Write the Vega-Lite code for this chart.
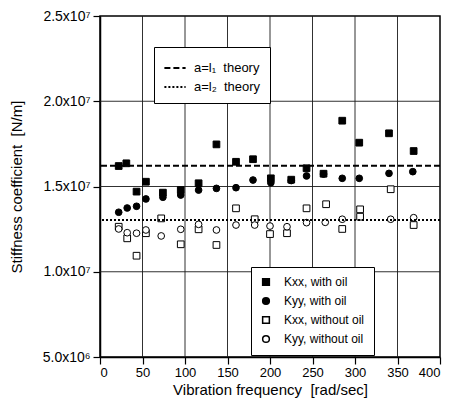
{
  "$schema": "https://vega.github.io/schema/vega-lite/v6.json",
  "autosize": {"type": "none"},
  "width": 340,
  "height": 341,
  "padding": {"left": 100, "top": 16, "right": 12, "bottom": 53},
  "background": "white",
  "config": {
    "font": "Liberation Sans",
    "view": {"stroke": "black", "strokeWidth": 1.5},
    "axis": {
      "grid": false,
      "domainColor": "black", "domainWidth": 1.5,
      "tickColor": "black", "tickWidth": 1.2, "tickSize": 7,
      "labelColor": "black", "labelFontSize": 13, "labelFont": "Liberation Sans",
      "titleColor": "black", "titleFontSize": 15, "titleFontWeight": "normal", "titleFont": "Liberation Sans"
    },
    "legend": {
      "labelColor": "black", "labelFont": "Liberation Sans",
      "strokeColor": "black", "fillColor": "white"
    }
  },
  "datasets": {
    "gridx": [{"g": 50}, {"g": 100}, {"g": 150}, {"g": 200}, {"g": 250}, {"g": 300}, {"g": 350}],
    "gridy": [{"g": 10000000}, {"g": 15000000}, {"g": 20000000}],
    "pts": [
      {"f": 22, "k": 16200000, "s": "Kxx, with oil"},
      {"f": 31, "k": 16360000, "s": "Kxx, with oil"},
      {"f": 43, "k": 14700000, "s": "Kxx, with oil"},
      {"f": 54, "k": 15280000, "s": "Kxx, with oil"},
      {"f": 74, "k": 14640000, "s": "Kxx, with oil"},
      {"f": 95, "k": 14790000, "s": "Kxx, with oil"},
      {"f": 116, "k": 15190000, "s": "Kxx, with oil"},
      {"f": 137, "k": 17470000, "s": "Kxx, with oil"},
      {"f": 160, "k": 16450000, "s": "Kxx, with oil"},
      {"f": 180, "k": 16600000, "s": "Kxx, with oil"},
      {"f": 201, "k": 15480000, "s": "Kxx, with oil"},
      {"f": 225, "k": 15400000, "s": "Kxx, with oil"},
      {"f": 243, "k": 16070000, "s": "Kxx, with oil"},
      {"f": 263, "k": 15750000, "s": "Kxx, with oil"},
      {"f": 285, "k": 18860000, "s": "Kxx, with oil"},
      {"f": 305, "k": 17570000, "s": "Kxx, with oil"},
      {"f": 340, "k": 18120000, "s": "Kxx, with oil"},
      {"f": 369, "k": 17080000, "s": "Kxx, with oil"},
      {"f": 22, "k": 13490000, "s": "Kyy, with oil"},
      {"f": 32, "k": 13740000, "s": "Kyy, with oil"},
      {"f": 43, "k": 13840000, "s": "Kyy, with oil"},
      {"f": 54, "k": 14270000, "s": "Kyy, with oil"},
      {"f": 74, "k": 14370000, "s": "Kyy, with oil"},
      {"f": 95, "k": 14500000, "s": "Kyy, with oil"},
      {"f": 116, "k": 14790000, "s": "Kyy, with oil"},
      {"f": 137, "k": 14890000, "s": "Kyy, with oil"},
      {"f": 160, "k": 14930000, "s": "Kyy, with oil"},
      {"f": 180, "k": 15380000, "s": "Kyy, with oil"},
      {"f": 201, "k": 15220000, "s": "Kyy, with oil"},
      {"f": 225, "k": 15350000, "s": "Kyy, with oil"},
      {"f": 243, "k": 15620000, "s": "Kyy, with oil"},
      {"f": 263, "k": 15730000, "s": "Kyy, with oil"},
      {"f": 285, "k": 15480000, "s": "Kyy, with oil"},
      {"f": 305, "k": 15480000, "s": "Kyy, with oil"},
      {"f": 340, "k": 15770000, "s": "Kyy, with oil"},
      {"f": 368, "k": 15870000, "s": "Kyy, with oil"},
      {"f": 22, "k": 12640000, "s": "Kxx, without oil"},
      {"f": 32, "k": 11960000, "s": "Kxx, without oil"},
      {"f": 43, "k": 10940000, "s": "Kxx, without oil"},
      {"f": 54, "k": 12260000, "s": "Kxx, without oil"},
      {"f": 72, "k": 13130000, "s": "Kxx, without oil"},
      {"f": 95, "k": 11610000, "s": "Kxx, without oil"},
      {"f": 116, "k": 12490000, "s": "Kxx, without oil"},
      {"f": 137, "k": 11570000, "s": "Kxx, without oil"},
      {"f": 160, "k": 13720000, "s": "Kxx, without oil"},
      {"f": 182, "k": 13080000, "s": "Kxx, without oil"},
      {"f": 200, "k": 12210000, "s": "Kxx, without oil"},
      {"f": 220, "k": 12260000, "s": "Kxx, without oil"},
      {"f": 243, "k": 13720000, "s": "Kxx, without oil"},
      {"f": 266, "k": 13960000, "s": "Kxx, without oil"},
      {"f": 285, "k": 12510000, "s": "Kxx, without oil"},
      {"f": 306, "k": 13660000, "s": "Kxx, without oil"},
      {"f": 306, "k": 13230000, "s": "Kxx, without oil"},
      {"f": 342, "k": 14840000, "s": "Kxx, without oil"},
      {"f": 369, "k": 12740000, "s": "Kxx, without oil"},
      {"f": 22, "k": 12510000, "s": "Kyy, without oil"},
      {"f": 32, "k": 12290000, "s": "Kyy, without oil"},
      {"f": 43, "k": 12260000, "s": "Kyy, without oil"},
      {"f": 54, "k": 12450000, "s": "Kyy, without oil"},
      {"f": 72, "k": 12100000, "s": "Kyy, without oil"},
      {"f": 95, "k": 12490000, "s": "Kyy, without oil"},
      {"f": 116, "k": 12780000, "s": "Kyy, without oil"},
      {"f": 137, "k": 12450000, "s": "Kyy, without oil"},
      {"f": 160, "k": 12740000, "s": "Kyy, without oil"},
      {"f": 182, "k": 12740000, "s": "Kyy, without oil"},
      {"f": 200, "k": 12680000, "s": "Kyy, without oil"},
      {"f": 220, "k": 12640000, "s": "Kyy, without oil"},
      {"f": 243, "k": 12880000, "s": "Kyy, without oil"},
      {"f": 265, "k": 12900000, "s": "Kyy, without oil"},
      {"f": 285, "k": 13080000, "s": "Kyy, without oil"},
      {"f": 342, "k": 13080000, "s": "Kyy, without oil"},
      {"f": 369, "k": 13170000, "s": "Kyy, without oil"}
    ],
    "theory": [
      {"t": "a=l₁ \u00a0theory", "k": 16220000},
      {"t": "a=l₂ \u00a0theory", "k": 13040000}
    ]
  },
  "layer": [
    {
      "data": {"name": "gridx"},
      "mark": {"type": "rule", "color": "#1a1a1a", "strokeWidth": 0.9},
      "encoding": {"x": {"field": "g", "type": "quantitative"}}
    },
    {
      "data": {"name": "gridy"},
      "mark": {"type": "rule", "color": "#1a1a1a", "strokeWidth": 0.9},
      "encoding": {"y": {"field": "g", "type": "quantitative"}}
    },
    {
      "data": {"name": "pts"},
      "mark": {"type": "point", "filled": true, "stroke": "black", "strokeWidth": 1, "size": 45, "opacity": 1},
      "encoding": {
        "x": {
          "field": "f", "type": "quantitative",
          "scale": {"domain": [0, 400], "nice": false},
          "axis": {
            "values": [0, 50, 100, 150, 200, 250, 300, 350, 400],
            "labelPadding": 2,
            "title": "Vibration frequency \u00a0[rad/sec]",
            "titlePadding": 3
          }
        },
        "y": {
          "field": "k", "type": "quantitative",
          "scale": {"domain": [5000000, 25000000], "nice": false, "zero": false},
          "axis": {
            "values": [5000000, 10000000, 15000000, 20000000, 25000000],
            "labelExpr": "datum.value < 10000000 ? '5.0x10⁶' : format(datum.value / 10000000, '.1f') + 'x10⁷'",
            "labelPadding": 3,
            "labelFontSize": 14,
            "title": "Stiffness coefficient \u00a0[N/m]",
            "titlePadding": 18
          }
        },
        "shape": {
          "field": "s", "type": "nominal",
          "scale": {"domain": ["Kxx, with oil", "Kyy, with oil", "Kxx, without oil", "Kyy, without oil"], "range": ["square", "circle", "square", "circle"]},
          "legend": {
            "title": null, "orient": "none", "legendX": 151, "legendY": 251,
            "symbolSize": 45, "labelFontSize": 12, "labelOffset": 12, "padding": 9, "rowPadding": 5,
            "strokeColor": "black",
            "encode": {"symbols": {"update": {
              "fill": {"signal": "indexof(datum.value, 'without') >= 0 ? 'white' : 'black'"},
              "stroke": {"value": "black"},
              "strokeWidth": {"value": 1},
              "opacity": {"value": 1}
            }}}
          }
        },
        "fill": {
          "field": "s", "type": "nominal",
          "scale": {"domain": ["Kxx, with oil", "Kyy, with oil", "Kxx, without oil", "Kyy, without oil"], "range": ["black", "black", "white", "white"]},
          "legend": null
        }
      }
    },
    {
      "data": {"name": "theory"},
      "mark": {"type": "rule", "strokeWidth": 2, "color": "black"},
      "encoding": {
        "y": {"field": "k", "type": "quantitative"},
        "strokeDash": {
          "field": "t", "type": "nominal",
          "scale": {"domain": ["a=l₁ \u00a0theory", "a=l₂ \u00a0theory"], "range": [[6, 3], [2, 2]]},
          "legend": {
            "title": null, "orient": "none", "legendX": 54, "legendY": 31,
            "symbolType": "stroke", "symbolSize": 450, "symbolStrokeWidth": 2,
            "symbolStrokeColor": "black", "labelFontSize": 13, "labelOffset": 7,
            "padding": 9, "rowPadding": 0, "strokeColor": "black"
          }
        }
      }
    }
  ]
}
